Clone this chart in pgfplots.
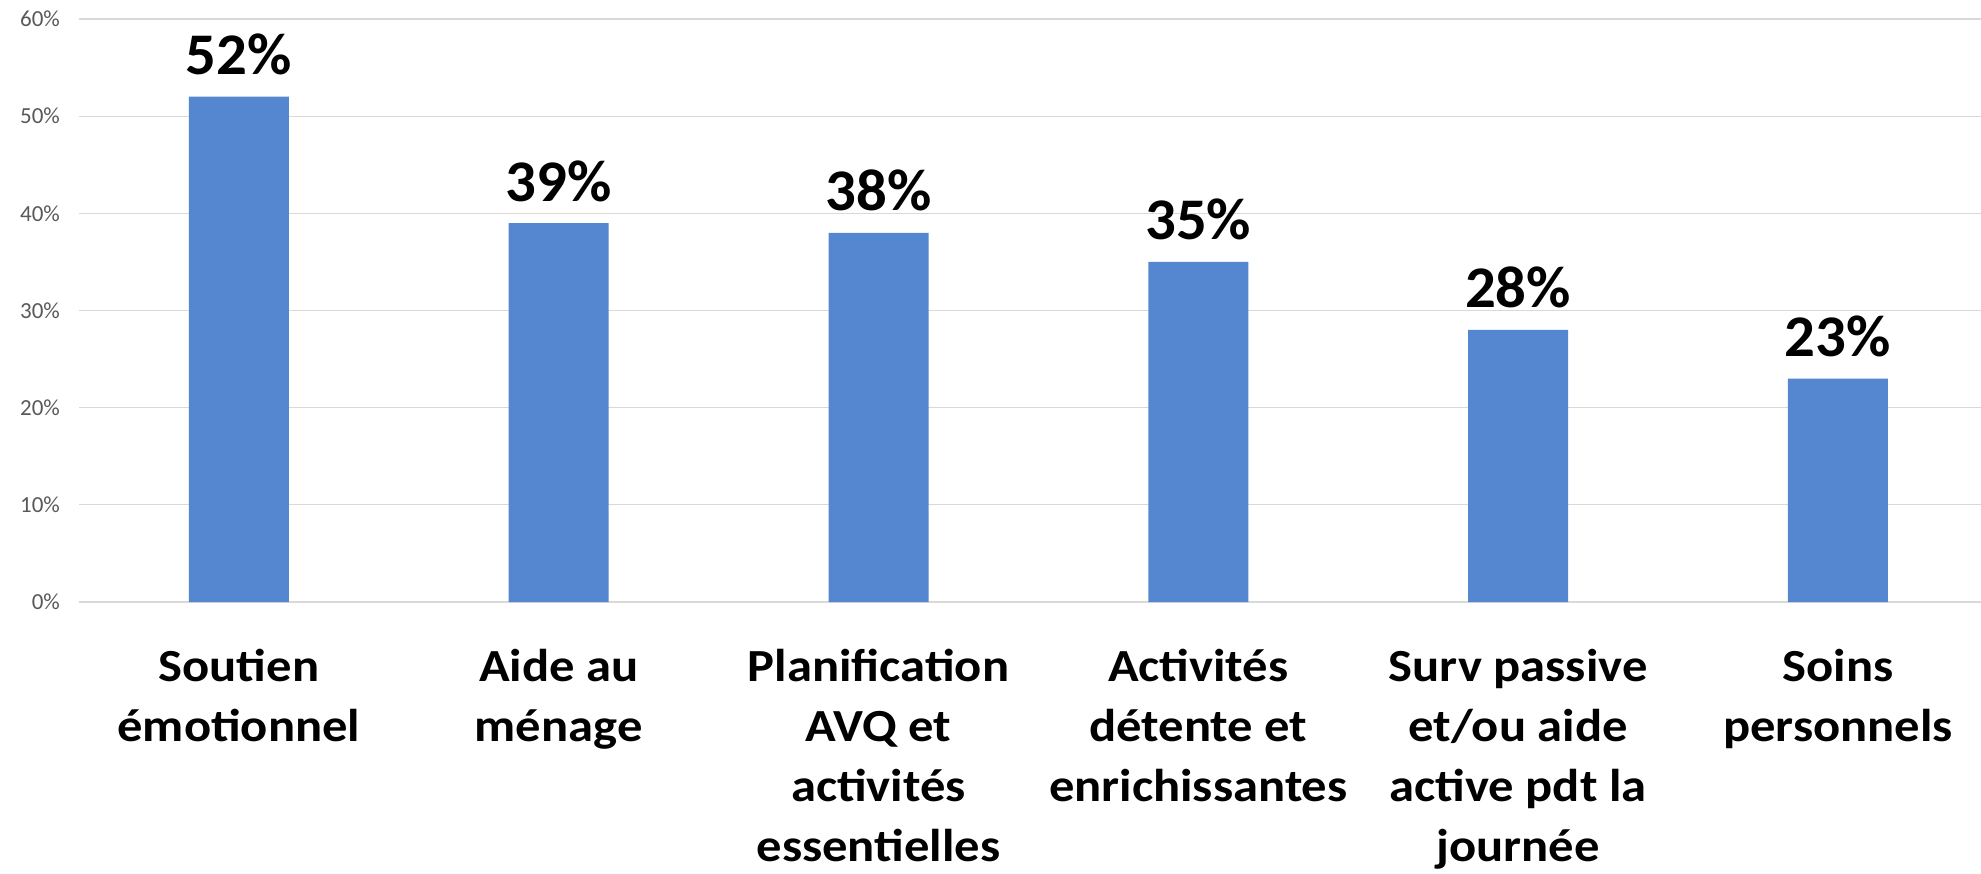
\documentclass[border=0pt]{standalone}
\usepackage{pgfplots}
\pgfplotsset{compat=1.18}
\usepackage{fontspec}
\setmainfont{Carlito}
\newfontfamily\catfont[FakeStretch=1.1]{Carlito}
\newfontfamily\valfont[FakeStretch=1.03]{Carlito}
\definecolor{barblue}{HTML}{5587D0}
\definecolor{gridgray}{HTML}{D9D9D9}
\definecolor{tickgray}{HTML}{595959}
\begin{document}
\begin{tikzpicture}
\begin{axis}[
  at={(0,0)}, anchor=south west,
  scale only axis,
  width=959.4pt, height=291.5pt,
  xmin=-0.5, xmax=5.5,
  ymin=0, ymax=60,
  ytick={0,10,20,30,40,50,60},
  yticklabels={0\%,10\%,20\%,30\%,40\%,50\%,60\%},
  xtick={0,1,2,3,4,5},
  xticklabels={
    {Soutien\\émotionnel},
    {Aide au\\ménage},
    {Planification\\AVQ et\\activités\\essentielles},
    {Activités\\détente et\\enrichissantes},
    {Surv passive\\et/ou aide\\active pdt la\\journée},
    {Soins\\personnels}},
  xticklabel style={align=center, anchor=north, yshift=-20pt,
    font=\catfont\fontsize{23}{30}\selectfont\bfseries, text=black},
  yticklabel style={font=\fontsize{11.5}{14}\selectfont, text=tickgray, xshift=-6pt},
  axis line style={draw=none},
  major tick length=0pt,
  ymajorgrids,
  grid style={draw=gridgray, line width=0.65pt},
  /pgf/number format/assume math mode=true,
  nodes near coords={\pgfmathprintnumber{\pgfplotspointmeta}\%},
  nodes near coords style={font=\valfont\fontsize{29.5}{34}\selectfont\bfseries, text=black, anchor=base, yshift=11pt},
]
\addplot[ybar, bar width=0.3127, fill=barblue, draw=none]
  coordinates {(0,52) (1,39) (2,38) (3,35) (4,28) (5,23)};
\end{axis}
\pgfresetboundingbox
\path[use as bounding box] (-39.5pt,-135.5pt) rectangle (951pt,301pt);
\end{tikzpicture}
\end{document}
